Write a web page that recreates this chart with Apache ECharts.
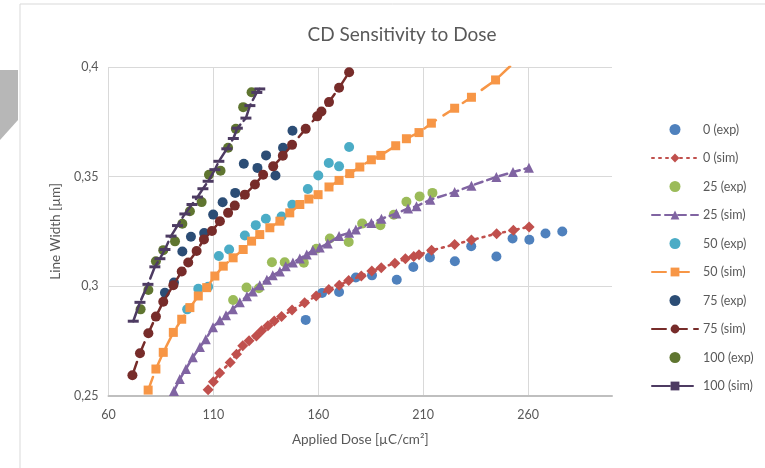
<!DOCTYPE html>
<html>
<head>
<meta charset="utf-8">
<script src="https://cdn.jsdelivr.net/npm/echarts@6/dist/echarts.min.js"></script>
<style>
  html, body { margin: 0; padding: 0; background: #fff; }
  #main { width: 765px; height: 468px; }
</style>
</head>
<body>
<div id="main"></div>
<script>
// values: dose [µC/cm²] and line width [µm]
var dose0Exp = [154.0, 161.8, 169.9, 177.9, 185.6, 197.4, 205.3, 213.2, 225.1, 232.9, 244.9, 252.6, 260.6, 268.3, 276.3]
var width0Exp = [0.2847, 0.2970, 0.2974, 0.3040, 0.3050, 0.3030, 0.3088, 0.3132, 0.3114, 0.3183, 0.3136, 0.3218, 0.3212, 0.3241, 0.3250]

var dose0Sim = [107.5, 110, 113, 118, 121, 124, 127, 130.5, 133, 136, 139, 142.5, 147.5, 153.5, 159, 165, 170, 174.5, 180.5, 185.5, 190, 196.5, 201.5, 205.5, 208, 214, 225, 233, 245, 253, 260.5]
var width0Sim = [0.2529, 0.2565, 0.2605, 0.2653, 0.2690, 0.2729, 0.2752, 0.2774, 0.2797, 0.2820, 0.2842, 0.2862, 0.2892, 0.2925, 0.2956, 0.2986, 0.3005, 0.3027, 0.3047, 0.3070, 0.3085, 0.3105, 0.3126, 0.3136, 0.3144, 0.3164, 0.3191, 0.3211, 0.3240, 0.3256, 0.3271]

var dose25Exp = [119.4, 125.8, 131.7, 137.9, 144.0, 153.1, 159.1, 165.5, 174.5, 180.9, 189.6, 196.0, 202.0, 208.3, 214.4]
var width25Exp = [0.2938, 0.2995, 0.2991, 0.3110, 0.3110, 0.3108, 0.3171, 0.3218, 0.3202, 0.3286, 0.3279, 0.3326, 0.3386, 0.3410, 0.3426]

var dose25Sim = [91.2, 94.0, 96.9, 100.2, 103.6, 106.4, 109.8, 113.1, 116.0, 119.3, 122.6, 126.0, 128.8, 132.1, 135.5, 138.3, 141.7, 144.5, 147.9, 151.2, 154.5, 157.4, 160.7, 164.5, 169.9, 174.7, 177.9, 185.3, 190.1, 197.2, 202.8, 206.8, 213.4, 225.0, 233.0, 244.9, 252.8, 260.4]
var width25Sim = [0.2523, 0.2577, 0.2623, 0.2677, 0.2723, 0.2759, 0.2814, 0.2845, 0.2868, 0.2895, 0.2927, 0.2955, 0.2977, 0.3005, 0.3030, 0.3050, 0.3068, 0.3091, 0.3109, 0.3127, 0.3145, 0.3164, 0.3177, 0.3195, 0.3229, 0.3244, 0.3259, 0.3289, 0.3308, 0.3332, 0.3355, 0.3365, 0.3395, 0.3430, 0.3459, 0.3499, 0.3521, 0.3541]

var dose50Exp = [97.5, 102.8, 107.5, 112.6, 117.5, 125.0, 130.2, 135.0, 142.5, 147.6, 155.0, 160.0, 165.0, 169.9, 174.7]
var width50Exp = [0.2895, 0.2989, 0.2998, 0.3138, 0.3168, 0.3232, 0.3279, 0.3308, 0.3318, 0.3372, 0.3444, 0.3505, 0.3562, 0.3547, 0.3635]

var dose50Sim = [78.9, 82.6, 86.1, 90.9, 94.9, 98.8, 102.8, 106.8, 110.7, 114.7, 119.4, 124.2, 128.2, 132.1, 136.9, 141.7, 146.4, 151.2, 155.5, 159.9, 165.1, 169.9, 175.0, 179.8, 185.3, 189.8, 196.9, 202.0, 208.0, 213.9, 225.0, 233.0, 244.5, 252.6]
var width50Sim = [0.2527, 0.2623, 0.2699, 0.2790, 0.2850, 0.2903, 0.2956, 0.2994, 0.3047, 0.3092, 0.3130, 0.3168, 0.3206, 0.3236, 0.3267, 0.3297, 0.3335, 0.3373, 0.3398, 0.3418, 0.3453, 0.3483, 0.3514, 0.3544, 0.3577, 0.3597, 0.3641, 0.3673, 0.3701, 0.3744, 0.3812, 0.3862, 0.3941, 0.4014]

var dose75Exp = [86.9, 91.2, 95.2, 99.3, 105.6, 109.9, 114.4, 120.4, 124.5, 131.0, 135.1, 139.6, 143.2, 147.7]
var width75Exp = [0.2971, 0.3017, 0.3159, 0.3226, 0.3243, 0.3327, 0.3383, 0.3426, 0.3559, 0.3540, 0.3597, 0.3505, 0.3632, 0.3709]

var dose75Sim = [71.4, 75.0, 79.0, 82.6, 86.1, 90.9, 94.9, 98.0, 102.0, 105.5, 109.3, 113.1, 117.0, 120.2, 125.0, 129.8, 133.7, 138.5, 143.1, 147.5, 154.0, 159.5, 161.5, 165.1, 169.9, 174.7]
var width75Sim = [0.2595, 0.2695, 0.2786, 0.2862, 0.2930, 0.3005, 0.3068, 0.3109, 0.3161, 0.3214, 0.3252, 0.3297, 0.3335, 0.3368, 0.3418, 0.3464, 0.3509, 0.3547, 0.3595, 0.3645, 0.3718, 0.3775, 0.3797, 0.3840, 0.3905, 0.3976]

var dose100Exp = [75.3, 79.0, 82.6, 86.1, 91.7, 95.2, 98.8, 104.4, 107.9, 113.4, 117.0, 120.7, 124.2, 128.2]
var width100Exp = [0.2895, 0.2983, 0.3114, 0.3165, 0.3205, 0.3285, 0.3342, 0.3384, 0.3509, 0.3527, 0.3632, 0.3718, 0.3817, 0.3885]

var dose100Sim = [71.8, 75.0, 78.8, 82.1, 84.5, 86.9, 89.8, 92.9, 96.4, 99.8, 102.4, 105.0, 107.5, 110.7, 112.6, 116.4, 119.5, 121.4, 125.5, 127.4, 130.7, 132.1]
var width100Sim = [0.2841, 0.2927, 0.3009, 0.3089, 0.3126, 0.3168, 0.3229, 0.3277, 0.3330, 0.3373, 0.3407, 0.3445, 0.3479, 0.3532, 0.3570, 0.3627, 0.3674, 0.3721, 0.3767, 0.3824, 0.3884, 0.3900]

var seriesNames = ['0 (exp)', '0 (sim)', '25 (exp)', '25 (sim)', '50 (exp)', '50 (sim)', '75 (exp)', '75 (sim)', '100 (exp)', '100 (sim)']

var textColor = '#595959'
var fontFamily = 'Lato, "Open Sans", sans-serif'

function pairs(xs, ys) {
    return xs.map(function (x, i) { return [x, ys[i]] })
}

function expSeries(name, xs, ys, color) {
    return {
        name: name,
        type: 'scatter',
        symbol: 'circle',
        symbolSize: 10,
        itemStyle: { color: color, opacity: 1 },
        data: pairs(xs, ys)
    }
}

function simSeries(name, xs, ys, color, dash, symbol, size) {
    return {
        name: name,
        type: 'line',
        symbol: symbol,
        symbolSize: size,
        showAllSymbol: true,
        clip: true,
        lineStyle: { color: color, width: 2.5, type: dash, cap: 'round' },
        itemStyle: { color: color, borderWidth: 0 },
        data: pairs(xs, ys)
    }
}

var chart = echarts.init(document.getElementById('main'))

var option = {
    backgroundColor: '#fff',
    animation: false,
    title: {
        text: 'CD Sensitivity to Dose',
        left: 397,
        textAlign: 'center',
        top: 20,
        textStyle: { color: textColor, fontSize: 19, fontWeight: 'normal', fontFamily: fontFamily }
    },
    graphic: [
        {
            type: 'polyline',
            shape: { points: [[20, 468], [20, 4], [765, 4]] },
            style: { stroke: '#d9d9d9', lineWidth: 1, fill: null },
            silent: true
        },
        {
            type: 'polygon',
            shape: { points: [[0, 70], [18, 70], [18, 120], [0, 140]] },
            style: { fill: '#b7b7b7' },
            silent: true
        }
    ],
    legend: {
        orient: 'vertical',
        left: 646,
        top: 118,
        itemWidth: 46,
        itemHeight: 11,
        itemGap: 15.5,
        textStyle: { color: textColor, fontSize: 12.5, fontFamily: fontFamily },
        data: seriesNames
    },
    grid: {
        left: 108.5,
        right: 153,
        top: 67,
        bottom: 72
    },
    xAxis: {
        type: 'value',
        min: 60,
        max: 300,
        interval: 50,
        name: 'Applied Dose [µC/cm²]',
        nameLocation: 'middle',
        nameGap: 37,
        nameTextStyle: { color: textColor, fontSize: 13.5, fontFamily: fontFamily },
        axisLine: { show: true, lineStyle: { color: '#bfbfbf', width: 2 } },
        axisTick: { show: false },
        axisLabel: {
            color: textColor, fontSize: 12.5, fontFamily: fontFamily, margin: 12,
            showMaxLabel: false
        },
        splitLine: { show: true, showMaxLine: false, lineStyle: { color: '#d9d9d9', width: 1 } }
    },
    yAxis: {
        type: 'value',
        min: 0.25,
        max: 0.4,
        interval: 0.05,
        name: 'Line Width [µm]',
        nameLocation: 'middle',
        nameGap: 46,
        nameTextStyle: { color: textColor, fontSize: 13.5, fontFamily: fontFamily },
        axisLine: { show: false },
        axisTick: { show: false },
        axisLabel: {
            color: textColor, fontSize: 12.5, fontFamily: fontFamily, margin: 10,
            formatter: function (v) { return String(+v.toFixed(2)).replace('.', ',') }
        },
        splitLine: { show: true, lineStyle: { color: '#d9d9d9', width: 1 } }
    },
    series: [
        expSeries('0 (exp)', dose0Exp, width0Exp, '#4F81BD'),
        simSeries('0 (sim)', dose0Sim, width0Sim, '#C0504D', [2, 5], 'diamond', 11),
        expSeries('25 (exp)', dose25Exp, width25Exp, '#9BBB59'),
        simSeries('25 (sim)', dose25Sim, width25Sim, '#8064A2', [8, 5], 'triangle', 10),
        expSeries('50 (exp)', dose50Exp, width50Exp, '#4BACC6'),
        simSeries('50 (sim)', dose50Sim, width50Sim, '#F79646', [14, 9], 'rect', 9),
        expSeries('75 (exp)', dose75Exp, width75Exp, '#2C4D75'),
        simSeries('75 (sim)', dose75Sim, width75Sim, '#772C2A', [14, 7], 'circle', 10),
        expSeries('100 (exp)', dose100Exp, width100Exp, '#5F7530'),
        simSeries('100 (sim)', dose100Sim, width100Sim, '#4D3B62', [18, 5], 'rect', [11, 3])
    ]
}

chart.setOption(option)
</script>
</body>
</html>
